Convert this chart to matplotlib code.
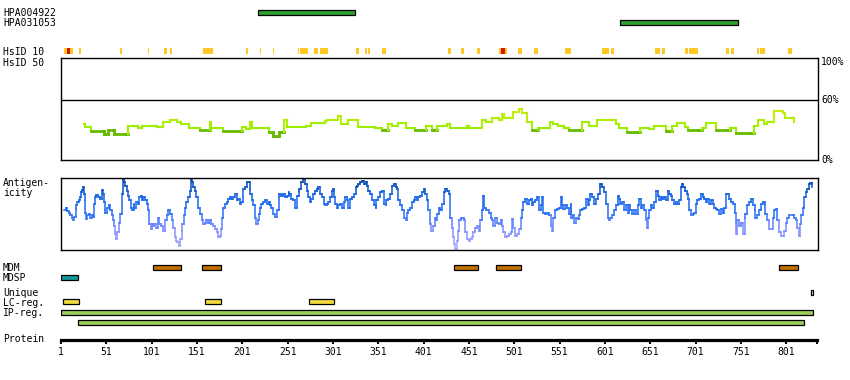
import numpy as np
import matplotlib
matplotlib.use('Agg')
import matplotlib.pyplot as plt
from matplotlib.collections import LineCollection
from matplotlib.colors import LinearSegmentedColormap

# protein length and track features (residue numbers)
prot_len = 835
tick_res = [1, 51, 101, 151, 201, 251, 301, 351, 401, 451, 501, 551, 601, 651, 701, 751, 801]

hpa_names = ['HPA004922', 'HPA031053']
hpa_start = [218, 618]
hpa_end = [325, 748]

hs10_start = [5, 21, 67, 97, 115, 122, 158, 206, 221, 235, 263, 265, 270, 281, 287, 327, 337, 340,
              356, 428, 443, 460, 485, 506, 523, 557, 561, 598, 608, 657, 660, 664, 690, 694, 697,
              735, 741, 769, 773, 803]
hs10_end = [13, 22, 67, 97, 117, 122, 168, 206, 221, 235, 263, 268, 272, 283, 295, 329, 337, 341,
            358, 430, 445, 462, 492, 508, 526, 559, 563, 604, 610, 659, 661, 666, 692, 696, 703,
            737, 742, 770, 776, 806]
hs10_red_start = [8, 487]
hs10_red_end = [10, 490]

mdm_start = [103, 157, 435, 481, 793]
mdm_end = [133, 177, 461, 508, 814]
mdsp_start = [1]
mdsp_end = [20]
uniq_start = [828]
uniq_end = [831]
lc_start = [3, 160, 275]
lc_end = [21, 178, 302]
ip_start = [1, 20]
ip_end = [831, 821]

# HsID 50 curve (% identity)
hs_pos = [26, 27, 33, 34, 47, 48, 52, 53, 58, 59, 73, 75, 85, 86, 89, 90, 106, 107, 113, 114, 120,
          121, 128, 129, 132, 133, 141, 142, 153, 154, 164, 165, 166, 172, 173, 179, 180, 199, 201,
          205, 209, 212, 218, 229, 230, 234, 235, 240, 241, 245, 247, 250, 270, 271, 276, 277, 290,
          292, 294, 305, 307, 310, 317, 318, 327, 329, 346, 347, 353, 355, 359, 362, 366, 369, 373,
          380, 382, 391, 392, 401, 404, 406, 410, 414, 416, 423, 427, 430, 447, 449, 451, 460, 465,
          470, 476, 480, 484, 487, 490, 497, 500, 504, 506, 510, 515, 520, 526, 527, 539, 540, 544,
          549, 555, 556, 560, 561, 574, 576, 581, 583, 588, 592, 610, 613, 616, 623, 625, 636, 640,
          647, 650, 655, 666, 668, 671, 675, 680, 686, 689, 693, 704, 708, 712, 722, 724, 734, 739,
          745, 761, 765, 770, 776, 780, 784, 787, 795, 797, 800, 806, 809]
hs_val = [36, 33, 33, 29, 29, 26, 26, 30, 30, 26, 26, 34, 34, 32, 32, 34, 34, 33, 33, 38, 38,
          40, 40, 38, 38, 36, 36, 32, 32, 29.5, 29.5, 38, 32, 32, 32, 32, 29, 29, 33,
          31, 38, 32, 32, 32, 28, 28, 24, 24, 28, 28, 40, 33, 33, 34, 34, 37, 37,
          39, 40, 40, 44, 36, 36, 40, 40, 33, 33, 32, 32, 29.5, 29.5, 36, 34, 34, 37,
          37, 32, 32, 29.5, 29.5, 34, 34, 29.5, 29.5, 34, 34, 36, 32, 32, 34, 32, 32, 40,
          38, 42, 42, 40, 46, 42, 42, 48, 48, 51, 47, 38, 29.5, 29.5, 32, 32, 38, 36,
          34, 34, 32, 32, 29.5, 29.5, 38, 38, 34, 34, 40, 40, 36, 32, 32, 28, 28, 32,
          32, 31, 34, 34, 29, 29, 34, 37, 37, 33, 29.5, 29.5, 32, 37, 37, 29.5, 29.5, 32,
          27, 27, 34, 40, 36, 38, 38, 49, 49, 47, 42, 42, 38]

# antigenicity profile (relative score 0-1)
ag_pos = [4, 6, 7, 8, 10, 11, 13, 14, 15, 17, 18, 19, 21, 22, 23, 24, 25, 26, 27, 28, 29, 30, 32, 33,
          35, 36, 37, 38, 40, 42, 44, 46, 47, 48, 49, 50, 52, 54, 55, 57, 58, 60, 61, 62, 63, 65, 66,
          68, 69, 70, 72, 74, 75, 76, 78, 79, 81, 82, 84, 86, 87, 89, 90, 92, 94, 96, 97, 98, 100,
          101, 103, 104, 106, 108, 109, 111, 113, 114, 116, 118, 119, 121, 123, 125, 127, 128, 129,
          131, 132, 134, 135, 137, 138, 139, 141, 143, 144, 145, 147, 149, 150, 152, 154, 156, 158,
          160, 161, 163, 165, 167, 169, 171, 173, 174, 176, 177, 179, 180, 182, 184, 185, 187, 189,
          191, 193, 195, 196, 198, 200, 202, 204, 206, 207, 209, 210, 212, 213, 215, 216, 218, 219,
          221, 222, 224, 226, 228, 230, 231, 233, 235, 237, 239, 241, 242, 244, 246, 248, 250, 252,
          253, 255, 257, 259, 261, 263, 264, 266, 268, 270, 272, 274, 276, 277, 279, 281, 283, 285,
          287, 289, 291, 292, 294, 296, 298, 300, 301, 302, 303, 305, 307, 309, 311, 313, 314, 316,
          318, 320, 322, 324, 326, 327, 329, 331, 333, 335, 337, 338, 340, 342, 344, 346, 348, 349,
          351, 353, 355, 357, 359, 360, 362, 364, 366, 368, 370, 372, 373, 375, 377, 379, 381, 383,
          384, 386, 388, 390, 392, 394, 395, 397, 399, 401, 403, 405, 406, 408, 409, 411, 413, 415,
          416, 418, 419, 421, 423, 425, 427, 429, 430, 432, 433, 435, 436, 438, 439, 440, 442, 444,
          446, 447, 449, 451, 452, 454, 456, 458, 460, 462, 463, 465, 467, 468, 470, 473, 475, 476,
          478, 480, 482, 484, 486, 487, 489, 491, 493, 495, 497, 498, 500, 502, 504, 506, 508, 509,
          511, 513, 515, 517, 519, 521, 522, 524, 526, 528, 530, 532, 533, 535, 537, 539, 541, 543,
          544, 546, 548, 550, 552, 554, 555, 557, 559, 561, 563, 564, 566, 567, 569, 571, 572, 574,
          576, 578, 580, 582, 583, 585, 587, 589, 591, 593, 595, 596, 598, 600, 602, 604, 606, 607,
          609, 611, 613, 615, 617, 618, 620, 622, 624, 626, 628, 629, 631, 633, 635, 637, 639, 641,
          642, 644, 646, 647, 649, 650, 652, 653, 655, 657, 659, 661, 663, 664, 666, 668, 670, 672,
          674, 675, 677, 679, 681, 683, 685, 686, 687, 689, 691, 693, 694, 696, 698, 699, 701, 703,
          705, 707, 709, 710, 712, 714, 716, 718, 720, 721, 723, 725, 727, 729, 731, 732, 734, 736,
          738, 740, 742, 744, 745, 746, 747, 749, 751, 753, 755, 756, 758, 760, 762, 764, 766, 767,
          769, 771, 773, 775, 777, 778, 780, 782, 784, 786, 788, 790, 791, 793, 795, 797, 799, 801,
          802, 804, 808, 810, 812, 813, 815, 816, 817, 819, 821, 823, 824, 826, 827, 829]
ag_val = [.55, .57, .59, .54, .51, .49, .45, .42, .46, .57, .62, .66, .69, .73, .80, .83, .88, .78, .69,
          .52, .43, .48, .50, .45, .48, .46, .64, .73, .77, .74, .71, .83, .78, .66, .55, .51, .59, .62,
          .55, .48, .41, .34, .22, .15, .25, .38, .50, .78, .99, .94, .89, .82, .75, .69, .59, .55, .64,
          .59, .66, .64, .73, .75, .69, .73, .69, .64, .55, .36, .29, .36, .34, .36, .31, .45, .36, .34,
          .31, .27, .41, .48, .55, .50, .41, .31, .18, .13, .11, .06, .15, .27, .36, .48, .59, .66, .73,
          .82, .99, .94, .87, .82, .73, .59, .50, .41, .36, .38, .41, .38, .41, .36, .34, .29, .25, .18,
          .20, .29, .45, .59, .64, .66, .71, .73, .71, .73, .78, .69, .71, .64, .66, .85, .87, .94, .95,
          .85, .78, .69, .62, .45, .36, .41, .50, .59, .64, .66, .70, .64, .66, .62, .59, .50, .46, .55,
          .73, .78, .75, .78, .73, .75, .80, .78, .71, .69, .59, .75, .82, .85, .94, .99, .92, .82, .73,
          .66, .71, .78, .82, .85, .87, .78, .73, .64, .62, .64, .66, .73, .82, .85, .73, .64, .59, .62,
          .64, .59, .66, .73, .69, .59, .71, .73, .78, .87, .89, .92, .94, .96, .92, .94, .89, .82, .78,
          .69, .62, .59, .69, .73, .80, .82, .64, .62, .69, .71, .78, .89, .92, .87, .85, .69, .62, .55,
          .45, .41, .52, .55, .59, .66, .69, .73, .69, .73, .75, .80, .85, .78, .69, .55, .36, .27, .34,
          .45, .41, .50, .59, .55, .64, .80, .85, .82, .78, .45, .31, .18, .08, .01, .13, .27, .41, .45,
          .45, .41, .25, .15, .13, .15, .18, .25, .31, .34, .27, .41, .55, .75, .59, .55, .52, .45, .41,
          .34, .45, .38, .36, .41, .34, .25, .18, .20, .22, .25, .43, .31, .20, .22, .29, .45, .55, .66,
          .71, .64, .69, .71, .62, .66, .69, .73, .55, .62, .73, .52, .50, .52, .48, .34, .27, .45, .55,
          .57, .59, .73, .62, .57, .62, .59, .50, .64, .45, .48, .38, .45, .43, .48, .55, .57, .59, .71,
          .62, .69, .78, .73, .64, .71, .78, .87, .92, .87, .80, .64, .45, .41, .45, .48, .55, .62, .75,
          .71, .64, .66, .55, .62, .52, .62, .55, .50, .55, .50, .62, .71, .59, .62, .55, .41, .31, .45,
          .55, .62, .59, .66, .82, .75, .69, .73, .71, .73, .69, .82, .78, .75, .69, .64, .66, .64, .69,
          .87, .92, .87, .82, .78, .71, .55, .48, .50, .52, .64, .69, .71, .78, .73, .71, .66, .71, .64,
          .69, .64, .59, .57, .55, .50, .57, .52, .59, .78, .78, .71, .66, .64, .52, .36, .22, .41, .34,
          .38, .22, .45, .50, .62, .66, .71, .62, .55, .45, .48, .55, .64, .66, .62, .50, .41, .29, .29,
          .45, .55, .57, .41, .25, .20, .20, .27, .38, .45, .48, .48, .45, .41, .31, .20, .36, .48, .59,
          .73, .80, .85, .92, .93, .87]

W, H = 850, 380
FONT = dict(family='DejaVu Sans Mono', fontsize=7, color='black')


def fy(y):
    # pixel row -> figure fraction
    return 1 - y / H


def step_segments(pos, val):
    # turn a profile into stair-step segments, like the pixel plot
    p = np.asarray(pos, dtype=float)
    v = np.asarray(val, dtype=float)
    xs = np.repeat(p, 2)[1:]
    ys = np.repeat(v, 2)[:-1]
    pts = np.column_stack([xs, ys])
    segs = np.stack([pts[:-1], pts[1:]], axis=1)
    level = np.maximum(segs[:, 0, 1], segs[:, 1, 1])
    low = np.minimum(segs[:, 0, 1], segs[:, 1, 1])
    return segs, level, low


fig = plt.figure(figsize=(W / 100, H / 100), dpi=100)
x0 = 61 / W
xw = 757 / W
xlim = (1, prot_len + 1)

# feature tracks (y in pixel rows)
tr = fig.add_axes([x0, 0, xw, 1])
tr.set_xlim(xlim)
tr.set_ylim(H, 0)
tr.axis('off')


def bars(start, end, row, color, h=5, edge='black'):
    s = np.array(start)
    e = np.array(end)
    tr.barh(row, e - s, left=s, height=h, color=color, edgecolor=edge, linewidth=0.9)


bars(hpa_start[:1], hpa_end[:1], 12.5, '#2ca02c')
bars(hpa_start[1:], hpa_end[1:], 22.5, '#2ca02c')
w10 = np.array(hs10_end) - np.array(hs10_start) + 1.5
tr.barh(51, w10, left=np.array(hs10_start) - 0.5, height=6, color='#ffc825', linewidth=0)
wr = np.array(hs10_red_end) - np.array(hs10_red_start) + 1.5
tr.barh(51, wr, left=np.array(hs10_red_start) - 0.5, height=6, color='#dd1100', linewidth=0)
bars(mdm_start, mdm_end, 267.5, '#c07000')
bars(mdsp_start, mdsp_end, 277.5, '#139a9a')
bars(uniq_start, uniq_end, 292.5, '#e8e8e8')
bars(lc_start, lc_end, 301.5, '#f2dc3c')
bars(ip_start[:1], ip_end[:1], 312.5, '#9ccc5a')
bars(ip_start[1:], ip_end[1:], 322.5, '#9ccc5a')

labels = [('HPA004922', 12.5), ('HPA031053', 22.7), ('HsID 10', 51.7), ('HsID 50', 62.7),
          ('Antigen-', 182.7), ('icity', 193.0), ('MDM', 268), ('MDSP', 278), ('Unique', 292.5),
          ('LC-reg.', 302.7), ('IP-reg.', 313), ('Protein', 339.5)]
for txt, y in labels:
    fig.text(3 / W, fy(y), txt, ha='left', va='center', **FONT)

# HsID 50 panel
ax1 = fig.add_axes([x0, fy(160), xw, 102 / H])
ax1.set_xlim(xlim)
ax1.set_ylim(0, 101.7)
ax1.set_xticks([])
ax1.set_yticks([])
for sp in ax1.spines.values():
    sp.set_linewidth(1.0)
ax1.axhline(60, color='black', linewidth=1.0)
segs, level, lowv = step_segments(hs_pos, hs_val)
low = level < 31
green = LinearSegmentedColormap.from_list('g', ['#99ee00', '#c8ee10'])
cols = [('#66bb00' if lo else green(np.clip((m - 31) / 20, 0, 1))) for lo, m in zip(low, level)]
lws = np.where(low, 2.0, 1.5)
ax1.add_collection(LineCollection(segs, colors=cols, linewidths=lws, capstyle='projecting'))
yt = ax1.get_yaxis_transform()
ax1.text(1.004, 97.3, '100%', transform=yt, ha='left', va='center', **FONT)
ax1.text(1.004, 59.7, '60%', transform=yt, ha='left', va='center', **FONT)
ax1.text(1.004, 0, '0%', transform=yt, ha='left', va='center', **FONT)

# antigenicity panel
ax2 = fig.add_axes([x0, fy(250), xw, 72 / H])
ax2.set_xlim(xlim)
ax2.set_ylim(0, 1)
ax2.set_xticks([])
ax2.set_yticks([])
for sp in ax2.spines.values():
    sp.set_linewidth(1.0)
blue = LinearSegmentedColormap.from_list(
    'ag', [(0, '#b0a8ff'), (0.3, '#7f8cff'), (0.5, '#2a70f8'), (0.75, '#1464e6'), (1, '#0040a0')])
asegs, alevel, alow = step_segments(ag_pos, ag_val)
ax2.add_collection(LineCollection(asegs, colors=blue((alevel + alow) / 2), linewidths=1.1,
                                  capstyle='projecting'))

# protein ruler
ax3 = fig.add_axes([x0, fy(339.5), xw, 0.0001])
ax3.set_xlim(xlim)
ax3.patch.set_visible(False)
for k in ['top', 'left', 'right']:
    ax3.spines[k].set_visible(False)
ax3.spines['bottom'].set_linewidth(2.3)
ax3.spines['bottom'].set_bounds(1, prot_len)
ax3.set_yticks([])
ax3.set_xticks(tick_res + [prot_len])
ax3.set_xticklabels([str(t) for t in tick_res] + [''], family='DejaVu Sans Mono', fontsize=7)
ax3.tick_params(axis='x', direction='out', length=2.9, width=1.5, pad=2.5, colors='black')

fig.savefig('out.png', dpi=100)
